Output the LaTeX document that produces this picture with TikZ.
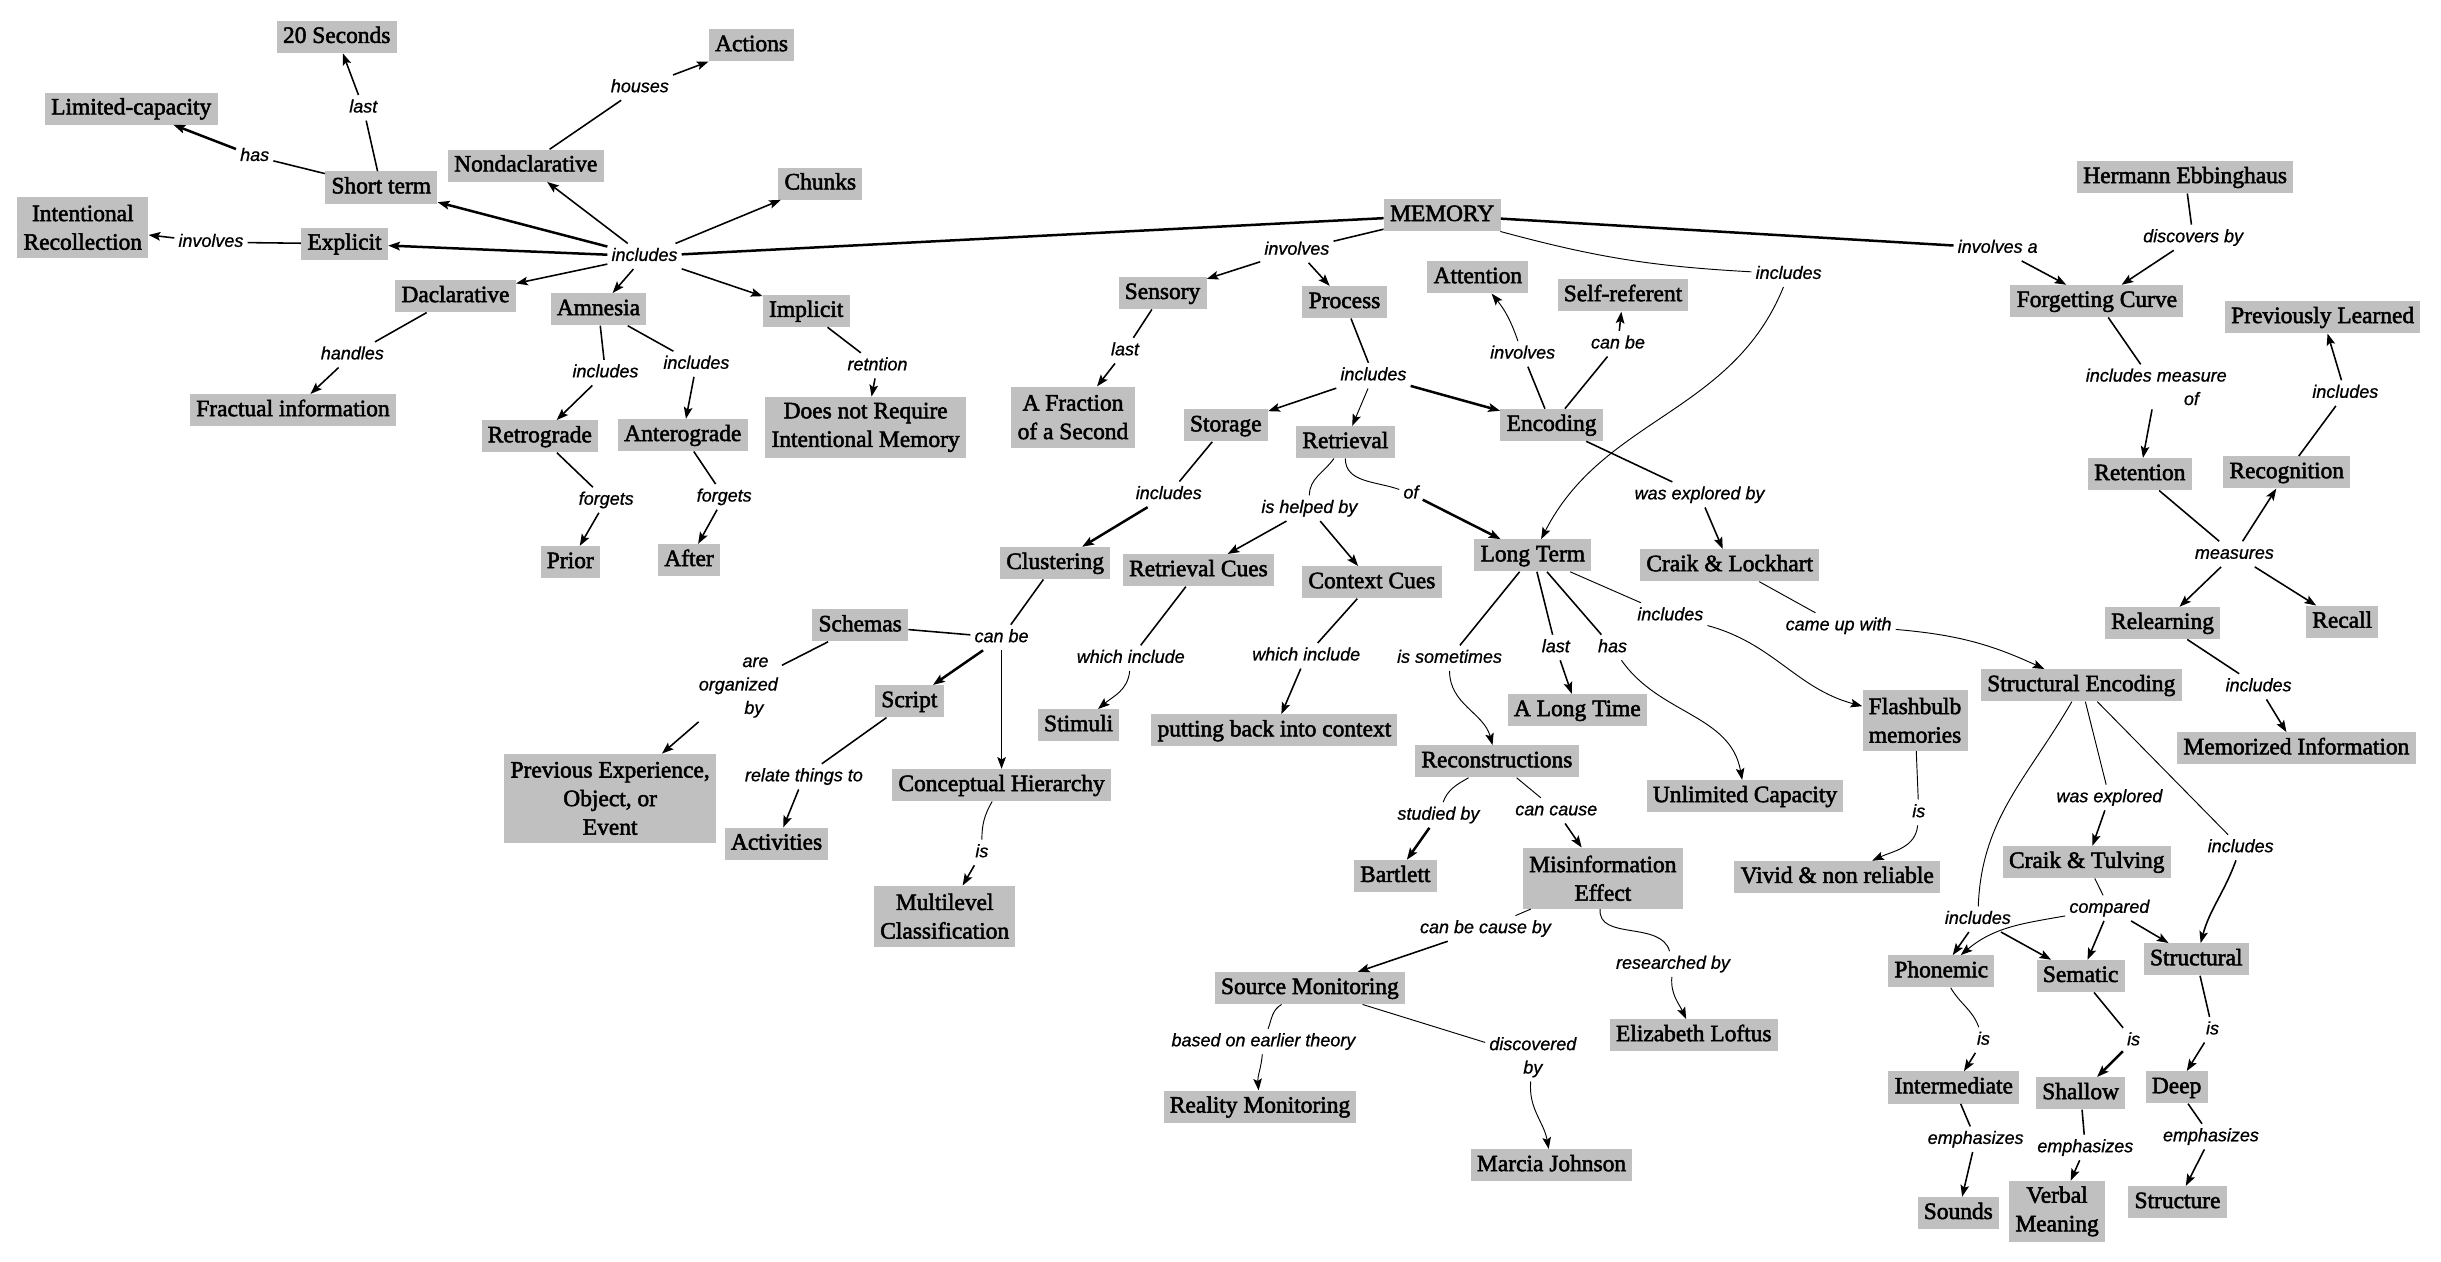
\documentclass[tikz,border=0pt]{standalone}
\usepackage{fontspec}
\setmainfont{Liberation Serif}[FakeBold=2.2]
\newfontfamily\lblfont{Liberation Sans}[FakeBold=0.8]
\usetikzlibrary{arrows.meta}
\definecolor{boxgray}{RGB}{192,192,192}
\begin{document}
\begin{tikzpicture}[x=1pt,y=1pt,
  cbox/.style={fill=boxgray, inner xsep=4pt, inner ysep=3pt, text height=11pt, text depth=3.5pt, font=\fontsize{15}{18.3}\selectfont},
  mbox/.style={fill=boxgray, inner xsep=4pt, inner ysep=3pt, align=center, minimum height=#1, font=\fontsize{15}{18.3}\selectfont},
  lbl/.style={inner sep=2.5pt, text height=8.5pt, text depth=2.5pt, font=\lblfont\itshape\fontsize{11.5}{15}\selectfont},
  mlbl/.style={inner sep=2.5pt, align=center, font=\lblfont\itshape\fontsize{11.5}{15}\selectfont},
  ln/.style={draw, line width=1pt},
  arr/.style={draw, line width=1pt, -{Stealth[length=7.5pt,width=5.5pt,inset=1.5pt]}},
  thk/.style={line width=1.6pt},
  thn/.style={line width=0.6pt}]
\useasboundingbox (0,0) rectangle (1562.24,-807.68);

% ---------- concept boxes ----------
\node[cbox] (memory) at (923,-137.7) {MEMORY};
\node[cbox] (twenty) at (215.5,-23.7) {20 Seconds};
\node[cbox] (actions) at (481,-29) {Actions};
\node[cbox] (limcap) at (84,-69.5) {Limited-capacity};
\node[cbox] (shortterm) at (244,-120) {Short term};
\node[cbox] (nondecl) at (336.5,-106) {Nondaclarative};
\node[mbox=39pt] (intrec) at (53,-145.5) {Intentional\\Recollection};
\node[cbox] (explicit) at (220.5,-156) {Explicit};
\node[cbox] (chunks) at (525,-117.5) {Chunks};
\node[cbox] (decl) at (291.5,-189.6) {Daclarative};
\node[cbox] (amnesia) at (383,-198) {Amnesia};
\node[cbox] (implicit) at (516,-199) {Implicit};
\node[cbox] (fractual) at (187.5,-262.6) {Fractual information};
\node[cbox] (retro) at (345.5,-279.3) {Retrograde};
\node[cbox] (antero) at (437,-278.5) {Anterograde};
\node[mbox=39pt] (dnr) at (554,-273.5) {Does not Require\\Intentional Memory};
\node[cbox] (prior) at (365,-359.8) {Prior};
\node[cbox] (after) at (441,-358.5) {After};
\node[mbox=57pt] (prevexp) at (390.5,-511) {Previous Experience,\\Object, or\\Event};
\node[cbox] (activities) at (497,-540) {Activities};
\node[cbox] (sensory) at (744,-187.6) {Sensory};
\node[cbox] (process) at (860.5,-193.4) {Process};
\node[cbox] (attention) at (945.8,-177.5) {Attention};
\node[cbox] (selfref) at (1038.7,-189) {Self-referent};
\node[mbox=39pt] (fraction) at (686.7,-267) {A Fraction\\of a Second};
\node[cbox] (storage) at (784.5,-272.3) {Storage};
\node[cbox] (retrieval) at (861,-283) {Retrieval};
\node[cbox] (encoding) at (993,-272) {Encoding};
\node[cbox] (hermann) at (1398.5,-113.4) {Hermann Ebbinghaus};
\node[cbox] (forget) at (1342,-192.7) {Forgetting Curve};
\node[cbox] (prevlearn) at (1486.5,-203) {Previously Learned};
\node[cbox] (retention) at (1369.5,-303.5) {Retention};
\node[cbox] (recognition) at (1463.5,-302.3) {Recognition};
\node[cbox] (relearning) at (1384,-398.8) {Relearning};
\node[cbox] (recall) at (1499,-398) {Recall};
\node[cbox] (memorized) at (1469.7,-479) {Memorized Information};
\node[cbox] (craiklock) at (1107,-361.8) {Craik \& Lockhart};
\node[cbox] (structenc) at (1332,-438.6) {Structural Encoding};
\node[mbox=39pt] (flashbulb) at (1225.6,-461) {Flashbulb\\memories};
\node[cbox] (unlimited) at (1116.8,-509.6) {Unlimited Capacity};
\node[cbox] (clustering) at (675.3,-360.4) {Clustering};
\node[cbox] (retcues) at (767,-365) {Retrieval Cues};
\node[cbox] (contextcues) at (878,-372.7) {Context Cues};
\node[cbox] (longterm) at (981,-355.5) {Long Term};
\node[cbox] (schemas) at (550.5,-400.3) {Schemas};
\node[cbox] (script) at (582,-448.8) {Script};
\node[cbox] (stimuli) at (690.3,-464.2) {Stimuli};
\node[cbox] (putting) at (815.6,-467.5) {putting back into context};
\node[cbox] (longtime) at (1009.5,-454.5) {A Long Time};
\node[cbox] (concept) at (641,-502.5) {Conceptual Hierarchy};
\node[cbox] (recon) at (958,-487.3) {Reconstructions};
\node[mbox=39pt] (multilevel) at (604.6,-586.4) {Multilevel\\Classification};
\node[cbox] (bartlett) at (893,-560.7) {Bartlett};
\node[mbox=39pt] (misinfo) at (1025.8,-562.1) {Misinformation\\Effect};
\node[cbox] (source) at (838.3,-632.4) {Source Monitoring};
\node[cbox] (loftus) at (1084,-662.6) {Elizabeth Loftus};
\node[cbox] (reality) at (806.4,-708.3) {Reality Monitoring};
\node[cbox] (johnson) at (993,-745.8) {Marcia Johnson};
\node[cbox] (vivid) at (1175.8,-561.3) {Vivid \& non reliable};
\node[cbox] (craiktulv) at (1335.5,-551.7) {Craik \& Tulving};
\node[cbox] (phonemic) at (1242.4,-621.7) {Phonemic};
\node[cbox] (sematic) at (1331.6,-624.7) {Sematic};
\node[cbox] (structural) at (1405.6,-614) {Structural};
\node[cbox] (intermediate) at (1250.4,-696) {Intermediate};
\node[cbox] (shallow) at (1331.6,-699.7) {Shallow};
\node[cbox] (deep) at (1393,-695.9) {Deep};
\node[cbox] (sounds) at (1253.3,-776.4) {Sounds};
\node[mbox=39pt] (verbal) at (1316.5,-775.3) {Verbal\\Meaning};
\node[cbox] (structure) at (1393.6,-769.4) {Structure};

% ---------- linking phrases ----------
\node[lbl] (linca) at (412.5,-164) {includes};
\node[lbl] (lhas) at (163,-100) {has};
\node[lbl] (llasta) at (232.5,-69) {last};
\node[lbl] (lhouses) at (409.5,-56) {houses};
\node[lbl] (linva) at (135,-155) {involves};
\node[lbl] (lhandles) at (225.5,-227) {handles};
\node[lbl] (lincb) at (387.5,-238.5) {includes};
\node[lbl] (lincc) at (445.7,-233) {includes};
\node[lbl] (lforga) at (388,-320) {forgets};
\node[lbl] (lforgb) at (463.5,-318) {forgets};
\node[lbl] (lretn) at (561.6,-234) {retntion};
\node[mlbl] (lorg) at (472.5,-440) {\hspace*{22pt}are\\organized\\\hspace*{20pt}by};
\node[lbl] (lrelate) at (514.5,-497) {relate things to};
\node[lbl] (linvb) at (830,-160) {involves};
\node[lbl] (llastb) at (720,-224.4) {last};
\node[lbl] (lincd) at (879,-240.4) {includes};
\node[lbl] (linvc) at (974.5,-226.5) {involves};
\node[lbl] (lcanbea) at (1035.5,-220) {can be};
\node[lbl] (ldiscby) at (1403.6,-152) {discovers by};
\node[lbl] (linvd) at (1278.5,-158.8) {involves a};
\node[lbl] (linthe) at (1144.7,-175.5) {includes};
\node[mlbl] (lincmeas) at (1380,-247.6) {includes measure\\\hspace*{45pt}of};
\node[lbl] (lince) at (1501,-251.6) {includes};
\node[lbl] (lmeas) at (1430,-354.6) {measures};
\node[lbl] (lincf) at (1445.5,-439.4) {includes};
\node[lbl] (lwasexpby) at (1087.7,-316.6) {was explored by};
\node[lbl] (lincg) at (1069,-394) {includes};
\node[lbl] (lcame) at (1176.7,-400.4) {came up with};
\node[lbl] (lisa) at (1228,-520) {is};
\node[lbl] (lwasexp) at (1350,-510.4) {was explored};
\node[lbl] (linch) at (1434,-542.4) {includes};
\node[lbl] (linci) at (748,-316.4) {includes};
\node[lbl] (lhelped) at (838,-325.3) {is helped by};
\node[lbl] (lof) at (903,-316) {of};
\node[lbl] (lcanbeb) at (641,-408) {can be};
\node[lbl] (lwhicha) at (723.7,-421.2) {which include};
\node[lbl] (lwhichb) at (836,-419.7) {which include};
\node[lbl] (lsometimes) at (927.7,-421.2) {is sometimes};
\node[lbl] (llastc) at (995.7,-414.4) {last};
\node[lbl] (lhasb) at (1032,-414.4) {has};
\node[lbl] (lstudied) at (920.6,-521.6) {studied by};
\node[lbl] (lcancause) at (996,-518.8) {can cause};
\node[lbl] (lisb) at (628.4,-545.6) {is};
\node[lbl] (lcauseby) at (950.7,-594.2) {can be cause by};
\node[lbl] (lresearch) at (1070.7,-617) {researched by};
\node[lbl] (lbased) at (808.6,-666.6) {based on earlier theory};
\node[mlbl] (ldiscov) at (981,-676.6) {discovered\\by};
\node[lbl] (lcompared) at (1350,-581.2) {compared};
\node[lbl] (lincj) at (1265.8,-588.3) {includes};
\node[lbl] (lisc) at (1269.4,-665.6) {is};
\node[lbl] (lisd) at (1365.5,-666) {is};
\node[lbl] (lise) at (1416,-659) {is};
\node[lbl] (lempha) at (1264.4,-729.1) {emphasizes};
\node[lbl] (lemphb) at (1334.6,-734.4) {emphasizes};
\node[lbl] (lemphc) at (1415,-727.4) {emphasizes};

% ---------- connectors ----------
% left hub
\draw[ln,thk] (memory) -- (linca);
\draw[arr,thk] (linca) -- (shortterm);
\draw[arr] (linca) -- (nondecl);
\draw[arr] (linca) -- (chunks);
\draw[arr,thk] (linca) -- (explicit);
\draw[arr] (linca) -- (decl);
\draw[arr] (linca) -- (amnesia);
\draw[arr] (linca) -- (implicit);
\draw[ln] (shortterm) -- (lhas);
\draw[arr,thk] (lhas) -- (limcap);
\draw[ln] (shortterm) -- (llasta);
\draw[arr] (llasta) -- (twenty);
\draw[ln] (nondecl) -- (lhouses);
\draw[arr] (lhouses) -- (actions);
\draw[ln] (explicit) -- (linva);
\draw[arr] (linva) -- (intrec);
\draw[ln] (decl) -- (lhandles);
\draw[arr] (lhandles) -- (fractual);
\draw[ln] (amnesia) -- (lincb);
\draw[arr] (lincb) -- (retro);
\draw[ln] (amnesia) -- (lincc);
\draw[arr] (lincc) -- (antero);
\draw[ln] (retro) -- (lforga);
\draw[arr] (lforga) -- (prior);
\draw[ln] (antero) -- (lforgb);
\draw[arr] (lforgb) -- (after);
\draw[ln] (implicit) -- (lretn);
\draw[arr] (lretn) -- (dnr);
% memory centre
\draw[ln] (memory) -- (linvb);
\draw[arr] (linvb) -- (sensory);
\draw[arr] (linvb) -- (process);
\draw[ln] (sensory) -- (llastb);
\draw[arr] (llastb) -- (fraction);
\draw[ln] (process) -- (lincd);
\draw[arr] (lincd) -- (storage);
\draw[arr,thn] (lincd) -- (retrieval);
\draw[arr,thk] (lincd) -- (encoding);
\draw[ln] (encoding) -- (linvc);
\draw[arr,thn] (linvc) to[bend right=10] (attention);
\draw[ln] (encoding) -- (lcanbea);
\draw[arr] (lcanbea) -- (selfref);
\draw[ln] (encoding) -- (lwasexpby);
\draw[arr] (lwasexpby) -- (craiklock);
\draw[ln,thn] (craiklock) -- (lcame);
\draw[arr,thn] (lcame) to[bend left=10] (structenc);
\draw[ln,thn] (memory) to[bend right=6] (linthe);
\draw[arr,thn] (linthe) to[out=248,in=63] (longterm);
% right
\draw[ln,thk] (memory) -- (linvd);
\draw[arr] (linvd) -- (forget);
\draw[ln] (hermann) -- (ldiscby);
\draw[arr] (ldiscby) -- (forget);
\draw[ln] (forget) -- (lincmeas);
\draw[arr] (lincmeas) -- (retention);
\draw[ln] (retention) -- (lmeas);
\draw[arr] (lmeas) -- (recognition);
\draw[arr] (lmeas) -- (relearning);
\draw[arr] (lmeas) -- (recall);
\draw[ln] (recognition) -- (lince);
\draw[arr] (lince) -- (prevlearn);
\draw[ln] (relearning) -- (lincf);
\draw[arr] (lincf) -- (memorized);
% storage / retrieval
\draw[ln] (storage) -- (linci);
\draw[arr,thk] (linci) -- (clustering);
\draw[ln,thn] (retrieval) to[out=235,in=90] (lhelped);
\draw[arr] (lhelped) -- (retcues);
\draw[arr] (lhelped) -- (contextcues);
\draw[ln,thn] (retrieval) to[out=270,in=160] (lof);
\draw[arr,thk] (lof) -- (longterm);
\draw[ln] (retcues) -- (lwhicha);
\draw[arr,thn] (lwhicha) to[out=265,in=40] (stimuli);
\draw[ln] (contextcues) -- (lwhichb);
\draw[arr] (lwhichb) -- (putting);
% clustering
\draw[ln] (clustering) -- (lcanbeb);
\draw[ln] (schemas) -- (lcanbeb);
\draw[arr,thk] (lcanbeb) -- (script);
\draw[arr,thn] (lcanbeb) -- (concept);
\draw[ln] (schemas) -- (lorg);
\draw[arr] (lorg) -- (prevexp);
\draw[ln] (script) -- (lrelate);
\draw[arr] (lrelate) -- (activities);
\draw[ln,thn] (concept) to[out=240,in=90] (lisb);
\draw[arr] (lisb) -- (multilevel);
% long term
\draw[ln] (longterm) -- (lsometimes);
\draw[arr,thn] (lsometimes) to[out=270,in=105] (recon);
\draw[ln] (longterm) -- (llastc);
\draw[arr] (llastc) -- (longtime);
\draw[ln] (longterm) -- (lhasb);
\draw[arr,thn] (lhasb) to[out=-55,in=100] (unlimited);
\draw[ln,thn] (longterm) -- (lincg);
\draw[arr,thn] (lincg) to[out=-15,in=165] (flashbulb);
\draw[ln,thn] (recon) to[out=210,in=70] (lstudied);
\draw[arr,thk] (lstudied) -- (bartlett);
\draw[ln,thn] (recon) -- (lcancause);
\draw[arr] (lcancause) -- (misinfo);
\draw[ln,thn] (misinfo) -- (lcauseby);
\draw[arr] (lcauseby) -- (source);
\draw[ln,thn] (misinfo) to[out=265,in=105] (lresearch);
\draw[arr,thn] (lresearch) to[out=265,in=115] (loftus);
\draw[ln,thn] (source) to[out=210,in=70] (lbased);
\draw[arr,thn] (lbased) to[out=265,in=95] (reality);
\draw[ln,thn] (source) -- (ldiscov);
\draw[arr,thn] (ldiscov) to[out=265,in=100] (johnson);
\draw[ln,thn] (flashbulb) -- (lisa);
\draw[arr,thn] (lisa) to[out=265,in=25] (vivid);
% structural encoding
\draw[ln,thn] (structenc) -- (lwasexp);
\draw[arr] (lwasexp) -- (craiktulv);
\draw[ln,thn] (structenc) to[out=240,in=88] (lincj);
\draw[arr] (lincj) -- (phonemic);
\draw[arr] (lincj) -- (sematic);
\draw[ln,thn] (structenc) -- (linch);
\draw[arr] (linch) to[out=250,in=75] (structural);
\draw[ln,thn] (craiktulv) -- (lcompared);
\draw[arr,thn] (lcompared) to[out=190,in=40] (phonemic);
\draw[arr] (lcompared) -- (sematic);
\draw[arr] (lcompared) -- (structural);
\draw[ln,thn] (phonemic) to[out=-60,in=110] (lisc);
\draw[arr] (lisc) -- (intermediate);
\draw[ln] (sematic) -- (lisd);
\draw[arr,thk] (lisd) -- (shallow);
\draw[ln] (structural) -- (lise);
\draw[arr] (lise) -- (deep);
\draw[ln] (intermediate) -- (lempha);
\draw[arr] (lempha) -- (sounds);
\draw[ln] (shallow) -- (lemphb);
\draw[arr] (lemphb) -- (verbal);
\draw[ln] (deep) -- (lemphc);
\draw[arr] (lemphc) -- (structure);
\end{tikzpicture}
\end{document}
